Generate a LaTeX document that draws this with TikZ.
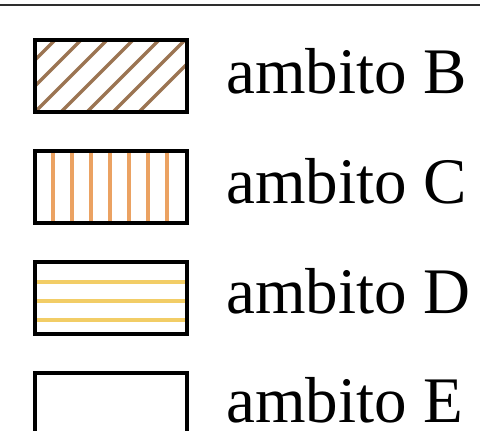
\documentclass[tikz,border=0pt]{standalone}
\usepackage{fontspec}
\setmainfont{Liberation Serif}
\usetikzlibrary{calc}
\definecolor{hatchbrown}{HTML}{9B7452}
\definecolor{hatchorange}{HTML}{EBA262}
\definecolor{hatchyellow}{HTML}{F2CD66}
\definecolor{rulegray}{HTML}{2E2E2E}
\tikzset{
  legbox/.style={draw=black, line width=3.6pt, fill=white, minimum width=152pt, minimum height=72pt, inner sep=0pt},
  hatchB/.style={draw=hatchbrown, line width=3.2pt},
  hatchC/.style={draw=hatchorange, line width=3.2pt},
  hatchD/.style={draw=hatchyellow, line width=3.2pt},
  legtext/.style={anchor=base west, inner sep=0pt, font=\fontsize{65}{65}\selectfont}
}
\begin{document}
\begin{tikzpicture}[x=1pt,y=-1pt]
\useasboundingbox (0,0) rectangle (480,431);
\coordinate (ruleL) at (0,5);
\coordinate (ruleR) at (480,5);
\draw[rulegray, line width=2.2pt] (ruleL) -- (ruleR);
% ambito B
\node[legbox, path picture={
  \coordinate (nw) at (path picture bounding box.north west);
  \foreach \k in {-4,...,6} \draw[hatchB] ($(nw)+(22+26*\k,-2)$) -- ++(-100,100);
}] (boxB) at (111,76) {};
% ambito C
\node[legbox, path picture={
  \coordinate (nw) at (path picture bounding box.north west);
  \foreach \k in {0,...,6} \draw[hatchC] ($(nw)+(18+19*\k,-2)$) -- ++(0,80);
}] (boxC) at (111,187) {};
% ambito D
\node[legbox, path picture={
  \coordinate (nw) at (path picture bounding box.north west);
  \foreach \k in {0,...,2} \draw[hatchD] ($(nw)+(-2,20+19*\k)$) -- ++(160,0);
}] (boxD) at (111,298) {};
% ambito E
\node[legbox] (boxE) at (111,409) {};
\node[legtext] (tB) at (226,93) {ambito B};
\node[legtext] (tC) at (226,203) {ambito C};
\node[legtext] (tD) at (226,313) {ambito D};
\node[legtext] (tE) at (226,422) {ambito E};
\end{tikzpicture}
\end{document}
